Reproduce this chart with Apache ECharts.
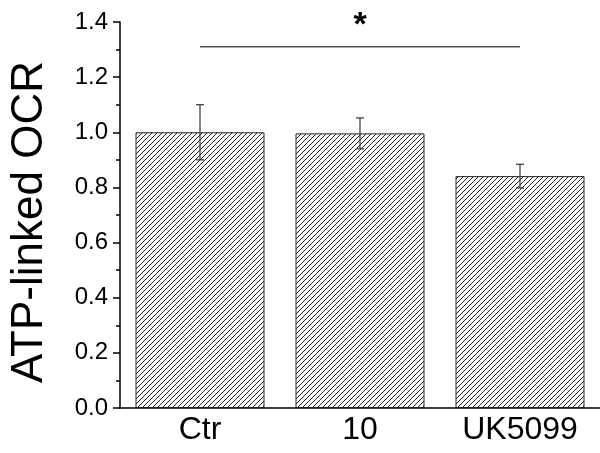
<!DOCTYPE html>
<html>
<head>
<meta charset="utf-8">
<script src="https://cdn.jsdelivr.net/npm/echarts@6/dist/echarts.min.js"></script>
<style>
  html, body { margin: 0; padding: 0; background: #fff; }
  #chart { width: 600px; height: 453px; }
</style>
</head>
<body>
<div id="chart"></div>
<script>
  var categories = ['Ctr', '10', 'UK5099'];
  var values = [1.0, 0.996, 0.841];
  var errors = [0.1, 0.056, 0.043];
  var yTicks = [0, 0.2, 0.4, 0.6, 0.8, 1.0, 1.2, 1.4];
  // significance bracket: from category index, to category index, height, label
  var sigFrom = 0, sigTo = 2, sigY = 1.31, sigLabel = '*';

  // diagonal hatch tile
  function hatch() {
    var s = 5;
    var c = document.createElement('canvas');
    c.width = s; c.height = s;
    var ctx = c.getContext('2d');
    ctx.fillStyle = '#fff';
    ctx.fillRect(0, 0, s, s);
    ctx.strokeStyle = '#222';
    ctx.lineWidth = 1;
    ctx.beginPath();
    ctx.moveTo(-1, s + 1); ctx.lineTo(s + 1, -1);
    ctx.moveTo(-1, 1); ctx.lineTo(1, -1);
    ctx.moveTo(s - 1, s + 1); ctx.lineTo(s + 1, s - 1);
    ctx.stroke();
    return c;
  }

  var errData = values.map(function (v, i) { return [i, v - errors[i], v + errors[i]]; });

  var chart = echarts.init(document.getElementById('chart'));
  var option = {
    animation: false,
    grid: { left: 120, right: 0, top: 22, bottom: 45 },
    xAxis: {
      type: 'category',
      data: categories,
      axisLine: { lineStyle: { color: '#000', width: 1.5 } },
      axisTick: { show: false },
      axisLabel: { color: '#000', fontSize: 32, fontFamily: 'Liberation Sans, Arial', margin: 6 }
    },
    yAxis: {
      type: 'value',
      min: 0,
      max: 1.4,
      interval: 0.2,
      name: 'ATP-linked OCR',
      nameLocation: 'middle',
      nameGap: 68,
      nameTextStyle: { color: '#000', fontSize: 44, fontFamily: 'Liberation Sans, Arial', padding: [0, 14, 0, 0] },
      axisLine: { show: true, lineStyle: { color: '#000', width: 1.5 } },
      axisTick: { show: true, length: 7, lineStyle: { color: '#000', width: 1.5 } },
      minorTick: { show: true, splitNumber: 2, length: 4, lineStyle: { color: '#000', width: 1.5 } },
      splitLine: { show: false },
      axisLabel: {
        color: '#000', fontSize: 24, fontFamily: 'Liberation Sans, Arial', margin: 12,
        formatter: function (v) { return v.toFixed(1); }
      }
    },
    series: [
      {
        type: 'bar',
        data: values,
        barWidth: 129,
        itemStyle: {
          color: { image: hatch(), repeat: 'repeat' },
          borderColor: '#222',
          borderWidth: 1
        },
        z: 2
      },
      {
        type: 'custom',
        data: errData,
        z: 3,
        renderItem: function (params, api) {
          var x = api.value(0);
          var lo = api.coord([x, api.value(1)]);
          var hi = api.coord([x, api.value(2)]);
          var w = 4;
          var st = { stroke: '#333', lineWidth: 1.2 };
          return {
            type: 'group',
            children: [
              { type: 'line', shape: { x1: lo[0], y1: lo[1], x2: hi[0], y2: hi[1] }, style: st },
              { type: 'line', shape: { x1: hi[0] - w, y1: hi[1], x2: hi[0] + w, y2: hi[1] }, style: st },
              { type: 'line', shape: { x1: lo[0] - w, y1: lo[1], x2: lo[0] + w, y2: lo[1] }, style: st }
            ]
          };
        }
      },
      {
        type: 'custom',
        data: [[sigFrom, sigTo, sigY]],
        z: 3,
        renderItem: function (params, api) {
          var a = api.coord([api.value(0), api.value(2)]);
          var b = api.coord([api.value(1), api.value(2)]);
          var mid = api.coord([(api.value(0) + api.value(1)) / 2, api.value(2)]);
          return {
            type: 'group',
            children: [
              { type: 'line', shape: { x1: a[0], y1: a[1], x2: b[0], y2: b[1] }, style: { stroke: '#555', lineWidth: 1.5 } },
              {
                type: 'text',
                style: {
                  x: mid[0], y: mid[1] - 4, text: sigLabel, fill: '#000',
                  font: 'bold 34px Liberation Sans, Arial', align: 'center', verticalAlign: 'bottom'
                }
              }
            ]
          };
        }
      }
    ]
  };
  chart.setOption(option);
</script>
</body>
</html>
